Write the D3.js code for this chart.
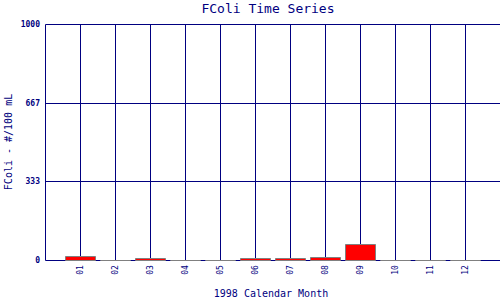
<!DOCTYPE html>
<html>
<head>
<meta charset="utf-8">
<script src="https://cdn.jsdelivr.net/npm/d3@7"></script>
<style>
  html, body { margin: 0; padding: 0; background: #fff; }
  svg { display: block; }
  text { font-family: "DejaVu Sans Mono", monospace; fill: #000080; }
</style>
</head>
<body>
<svg id="chart" width="500" height="300"></svg>
<script>
const months = ["01","02","03","04","05","06","07","08","09","10","11","12"];
const values = [17, 0, 7, 0, 0, 8, 8, 13, 68, 0, 0, 0];
const yTickValues = [0, 333.333, 666.667, 1000];
const yTickLabels = ["0", "333", "667", "1000"];
const titleText = "FColi Time Series";
const xTitleText = "1998 Calendar Month";
const yTitleText = "FColi - #/100 mL";

const navy = "#000080";
const svg = d3.select("#chart");
const plotL = 45, plotR = 500, plotT = 24, plotB = 260;

const x = d3.scaleLinear().domain([0, 13]).range([plotL, plotR]);
const y = d3.scaleLinear().domain([0, 1000]).range([plotB, plotT]);

const g = svg.append("g").attr("transform", "translate(0.5,0.5)");

// horizontal gridlines
g.selectAll("line.h").data(yTickValues).enter().append("line")
  .attr("x1", plotL).attr("x2", plotR)
  .attr("y1", d => Math.round(y(d))).attr("y2", d => Math.round(y(d)))
  .attr("stroke", navy).attr("stroke-width", 1);

// vertical gridlines
g.selectAll("line.v").data(months).enter().append("line")
  .attr("x1", (d, i) => Math.round(x(i + 1))).attr("x2", (d, i) => Math.round(x(i + 1)))
  .attr("y1", plotT).attr("y2", plotB)
  .attr("stroke", navy).attr("stroke-width", 1);

// left axis line
g.append("line").attr("x1", plotL).attr("x2", plotL).attr("y1", plotT).attr("y2", plotB)
  .attr("stroke", navy).attr("stroke-width", 1);

// bars (as paths so zero-height bars still show their outline)
const bw = 30;
g.selectAll("path.bar").data(values).enter().append("path")
  .attr("d", (d, i) => {
    const x0 = Math.round(x(i + 1) - bw / 2);
    const y0 = Math.round(y(d));
    const y1 = Math.round(y(0));
    return `M${x0},${y0}H${x0 + bw}V${y1}H${x0}Z`;
  })
  .attr("fill", "#ff0000")
  .attr("stroke", "#808080")
  .attr("stroke-width", 1);

// y tick labels
svg.selectAll("text.yt").data(yTickValues).enter().append("text")
  .attr("x", 40).attr("y", d => Math.round(y(d)) + 3)
  .attr("text-anchor", "end")
  .attr("font-size", 8).attr("font-weight", "bold")
  .text((d, i) => yTickLabels[i]);

// x tick labels (rotated)
svg.selectAll("text.xt").data(months).enter().append("text")
  .attr("transform", (d, i) => `translate(${Math.round(x(i + 1)) + 3},270) rotate(-90)`)
  .attr("text-anchor", "middle")
  .attr("font-size", 8)
  .text(d => d);

// title
svg.append("text").attr("x", 268).attr("y", 13)
  .attr("text-anchor", "middle").attr("font-size", 13)
  .text(titleText);

// x title
svg.append("text").attr("x", 271).attr("y", 297)
  .attr("text-anchor", "middle").attr("font-size", 10)
  .text(xTitleText);

// y title
svg.append("text").attr("transform", "translate(12,142) rotate(-90)")
  .attr("text-anchor", "middle").attr("font-size", 10)
  .text(yTitleText);
</script>
</body>
</html>
